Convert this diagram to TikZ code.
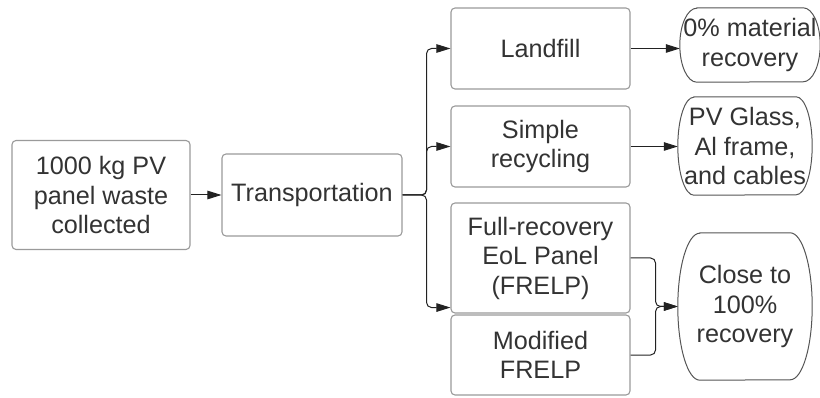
\documentclass[tikz,border=0pt]{standalone}
\usepackage{fontspec}
\setmainfont{Liberation Sans}
\usetikzlibrary{arrows.meta}
\definecolor{boxline}{HTML}{9A9A9A}
\definecolor{termline}{HTML}{555555}
\definecolor{txt}{HTML}{333333}
\definecolor{conn}{HTML}{222222}
\tikzset{
  procbox/.style={draw=boxline, line width=1.1pt, rounded corners=4pt, align=center,
    text=txt, font=\fontsize{25.2}{29.5}\selectfont, inner sep=0pt},
  termtext/.style={align=center, text=txt, font=\fontsize{25.2}{29.5}\selectfont, inner sep=0pt},
  termline/.style={draw=termline, line width=1pt},
  conn/.style={draw=conn, line width=1pt, rounded corners=5pt},
  arr/.style={conn, -{Triangle[length=14pt,width=8.5pt]}}
}
\begin{document}
\begin{tikzpicture}[x=1pt,y=-1pt]
\useasboundingbox (0,0) rectangle (820,398);
% process boxes
\node[procbox, minimum width=178pt, minimum height=109pt] (col) at (101,195) {1000 kg PV\\panel waste\\collected};
\node[procbox, minimum width=180pt, minimum height=82pt] (trans) at (312,195) {Transportation};
\node[procbox, minimum width=179pt, minimum height=81pt] (land) at (540.5,48.5) {Landfill};
\node[procbox, minimum width=179pt, minimum height=81pt] (simp) at (540.5,146.5) {Simple\\recycling};
\node[procbox, minimum width=179pt, minimum height=110pt] (fre) at (540.5,258) {Full-recovery\\EoL Panel\\(FRELP)};
\node[procbox, minimum width=179pt, minimum height=80pt] (mod) at (540.5,355) {Modified\\FRELP};
% terminator shapes
\node[termtext, minimum width=140pt, minimum height=74pt] (zero) at (750,45) {0\% material\\recovery};
\node[termtext, minimum width=134pt, minimum height=98pt] (pvg) at (745,146) {PV Glass,\\Al frame,\\and cables};
\node[termtext, minimum width=134pt, minimum height=147pt] (close) at (745,306.5) {Close to\\100\%\\recovery};
\draw[termline] ([xshift=17pt]zero.north west) -- ([xshift=-17pt]zero.north east)
  arc[start angle=90,end angle=-90,x radius=17pt,y radius=37pt]
  -- ([xshift=17pt]zero.south west)
  arc[start angle=270,end angle=90,x radius=17pt,y radius=37pt] -- cycle;
\draw[termline] ([xshift=16pt]pvg.north west) -- ([xshift=-16pt]pvg.north east)
  arc[start angle=90,end angle=-90,x radius=16pt,y radius=49pt]
  -- ([xshift=16pt]pvg.south west)
  arc[start angle=270,end angle=90,x radius=16pt,y radius=49pt] -- cycle;
\draw[termline] ([xshift=22pt]close.north west) -- ([xshift=-22pt]close.north east)
  arc[start angle=90,end angle=-90,x radius=22pt,y radius=73.5pt]
  -- ([xshift=22pt]close.south west)
  arc[start angle=270,end angle=90,x radius=22pt,y radius=73.5pt] -- cycle;
% connectors
\draw[arr] (col.east) -- (trans.west);
\coordinate (split) at ([xshift=24pt]trans.east);
\draw[arr] (trans.east) -- (split) |- (land.west);
\draw[arr] (trans.east) -- (split) |- (simp.west);
\draw[arr] (trans.east) -- (split) |- ([yshift=6pt]fre.south west);
\coordinate (merge) at ([xshift=25pt]fre.east);
\draw[arr] (fre.east) -- (merge) |- (close.west);
\draw[arr] (mod.east) -| (merge |- close.west) -- (close.west);
\draw[arr] (land.east) -- (land.east -| zero.west);
\draw[arr] (simp.east) -- (simp.east -| pvg.west);
\end{tikzpicture}
\end{document}
